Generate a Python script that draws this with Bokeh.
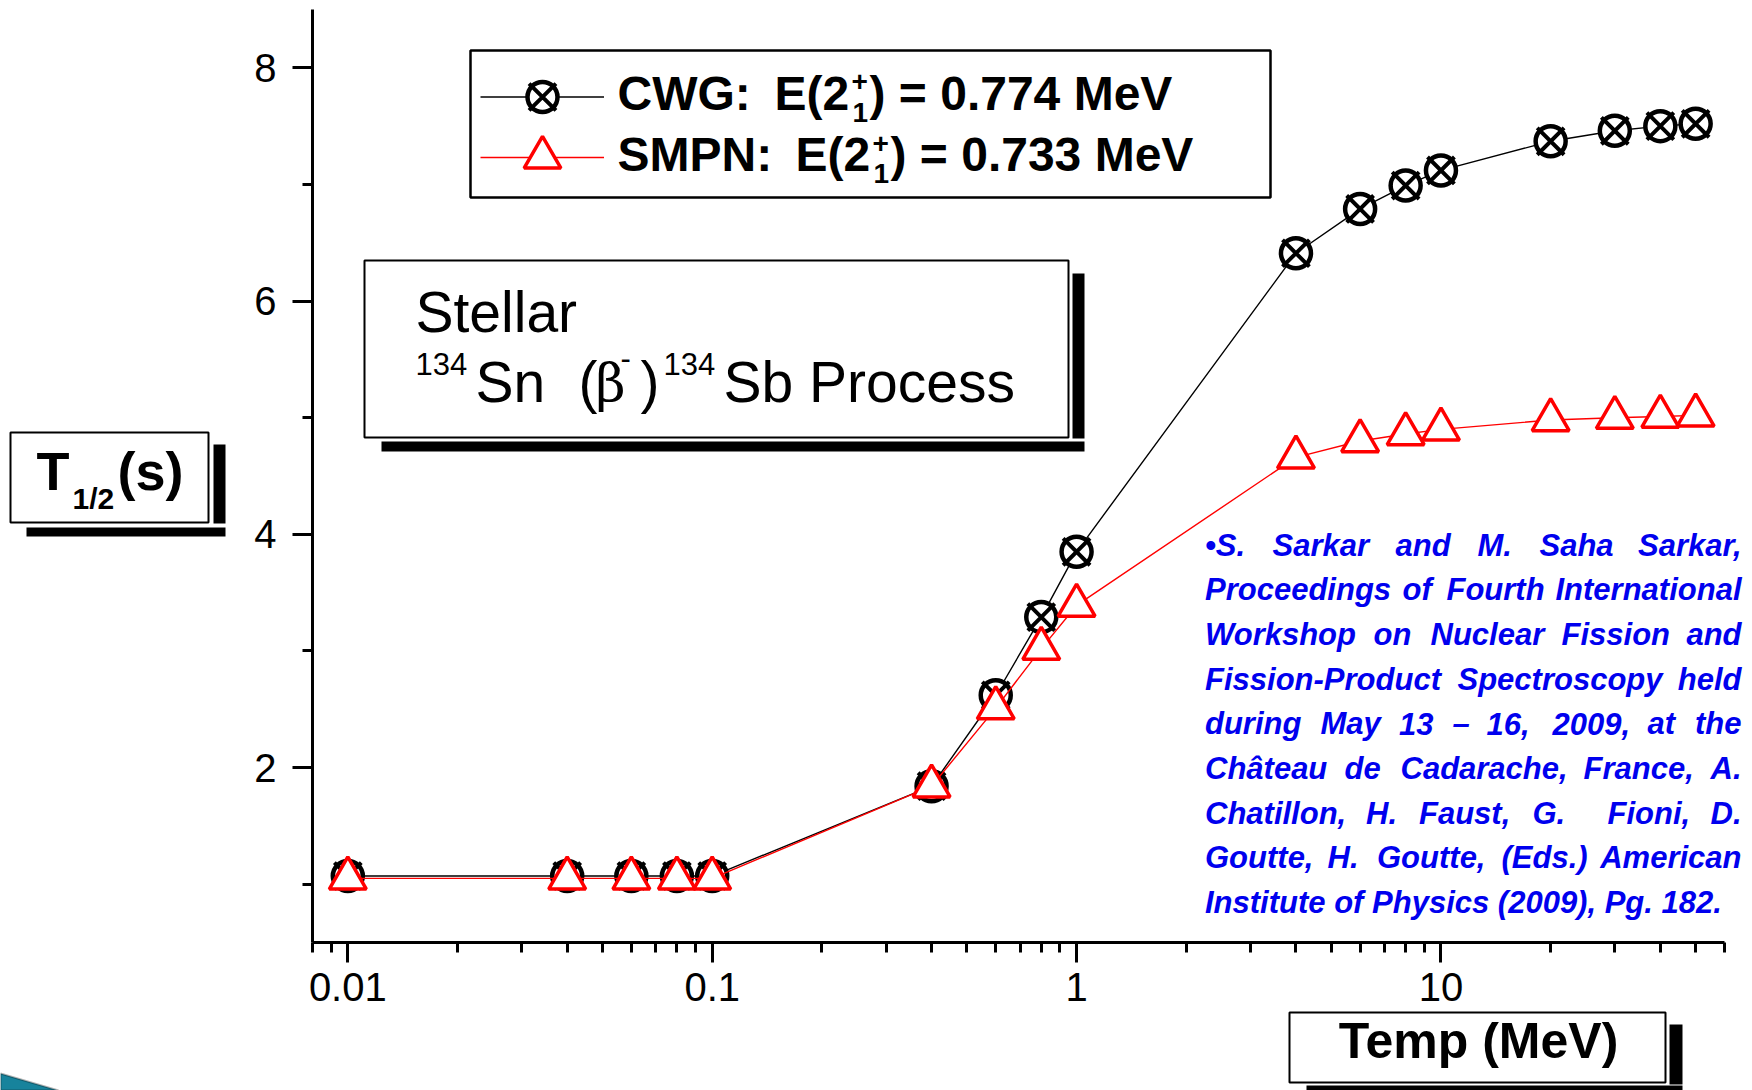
import math
from bokeh.plotting import figure
from bokeh.models import (Range1d, FixedTicker, SingleIntervalTicker, Label,
                          BoxAnnotation, PolyAnnotation, Legend, LegendItem)
from bokeh.embed import file_html
from bokeh.resources import INLINE

# ---------------- data ----------------
temp_mev = [0.01, 0.04, 0.06, 0.08, 0.1, 0.4, 0.6, 0.8, 1, 4, 6, 8, 10, 20, 30, 40, 50]
cwg_half_life = [1.07, 1.07, 1.07, 1.07, 1.07, 1.84, 2.62, 3.29, 3.85,
                 6.41, 6.79, 6.99, 7.12, 7.37, 7.46, 7.50, 7.52]
smpn_half_life = [1.05, 1.05, 1.05, 1.05, 1.05, 1.84, 2.51, 3.02, 3.39,
                  4.66, 4.80, 4.86, 4.90, 4.98, 5.00, 5.01, 5.02]

x_bounds = (0.008, 60)
y_bounds = (0.5, 8.5)
x_major_ticks = [0.01, 0.1, 1, 10]
x_tick_labels = ["0.01", "0.1", "1", "10"]
y_tick_interval = 2

legend_cwg = ["CWG:", "E(2", "+", "1", ") = 0.774 MeV"]
legend_smpn = ["SMPN:", "E(2", "+", "1", ") = 0.733 MeV"]
y_label = ["T", "1/2", "(s)"]
x_label = "Temp (MeV)"
box_line1 = "Stellar"
box_line2 = ["134", "Sn", "(", "\u03b2", "-", ")", "134", "Sb Process"]

citation_lines = [
    ["\u2022S.", "Sarkar", "and", "M.", "Saha", "Sarkar,"],
    ["Proceedings", "of", "Fourth", "International"],
    ["Workshop", "on", "Nuclear", "Fission", "and"],
    ["Fission-Product", "Spectroscopy", "held"],
    ["during", "May", "13", "\u2013", "16,", "2009,", "at", "the"],
    ["Ch\u00e2teau", "de", "Cadarache,", "France,", "A."],
    ["Chatillon,", "H.", "Faust,", "G.", "Fioni,", "D."],
    ["Goutte,", "H.", "Goutte,", "(Eds.)", "American"],
    ["Institute of Physics (2009), Pg. 182."],
]

# ---------------- layout (canvas pixels) ----------------
W, H = 1752, 1090
AX_L, AX_R, AX_T, AX_B = 312, 1724, 9, 942   # where the axes sit on the canvas

# frame covers the whole canvas; ranges extended so the axes land at AX_*
lx0, lx1 = math.log10(x_bounds[0]), math.log10(x_bounds[1])
px_dec = (AX_R - AX_L) / (lx1 - lx0)
x_start = 10 ** (lx0 - AX_L / px_dec)
x_end = 10 ** (lx1 + (W - AX_R) / px_dec)
px_unit = (AX_B - AX_T) / (y_bounds[1] - y_bounds[0])
y_start = y_bounds[0] - (H - AX_B) / px_unit
y_end = y_bounds[1] + AX_T / px_unit

p = figure(width=W, height=H, x_axis_type="log",
           x_range=Range1d(x_start, x_end), y_range=Range1d(y_start, y_end),
           output_backend="svg", toolbar_location=None,
           min_border=0, min_border_left=0, min_border_right=0,
           min_border_top=0, min_border_bottom=0)
p.title.visible = False
p.xgrid.visible = False
p.ygrid.visible = False
p.outline_line_color = None
p.background_fill_color = "white"
p.border_fill_color = "white"

minor_x = [m * 10.0 ** e for e in range(-3, 2) for m in range(2, 10)]
minor_x = [v for v in minor_x if x_bounds[0] <= v <= x_bounds[1]]
p.xaxis.ticker = FixedTicker(ticks=x_major_ticks, minor_ticks=minor_x)
p.xaxis.major_label_overrides = {t: s for t, s in zip(x_major_ticks, x_tick_labels)}
p.yaxis.ticker = SingleIntervalTicker(interval=y_tick_interval, num_minor_ticks=2)
p.xaxis.fixed_location = y_bounds[0]
p.xaxis.bounds = x_bounds
p.yaxis.fixed_location = x_bounds[0]
p.yaxis.bounds = y_bounds

for ax in (p.xaxis[0], p.yaxis[0]):
    ax.axis_line_width = 3
    ax.axis_line_color = "black"
    ax.major_tick_line_width = 3
    ax.minor_tick_line_width = 3
    ax.major_tick_line_color = "black"
    ax.minor_tick_line_color = "black"
    ax.major_tick_out = 20
    ax.major_tick_in = 0
    ax.minor_tick_out = 10
    ax.minor_tick_in = 0
    ax.major_label_text_font = "Liberation Sans"
    ax.major_label_text_font_size = "40px"
    ax.major_label_text_color = "black"
p.xaxis.major_label_standoff = 10
p.yaxis.major_label_standoff = 16

# ---------------- data renderers ----------------
cwg_line = p.line(temp_mev, cwg_half_life, line_color="black", line_width=1.4)
cwg_circ = p.scatter(temp_mev, cwg_half_life, marker="circle", size=30,
                     line_color="black", line_width=4.5, fill_color="white")
cwg_x = p.scatter(temp_mev, cwg_half_life, marker="x", size=38,
                  line_color="black", line_width=4)
smpn_line = p.line(temp_mev, smpn_half_life, line_color="red", line_width=1.4)
smpn_tri = p.scatter(temp_mev, smpn_half_life, marker="triangle", size=37,
                     line_color="red", line_width=3.5, fill_color="white")

# ---------------- helpers (screen units, frame == canvas) ----------------
K_BASE = 0.385   # empirical shift of the rendered alphabetic baseline


def box(x0, y0, x1, y1, fill="white", line=None, lw=0):
    p.add_layout(BoxAnnotation(left=x0, right=x1, top=H - y0, bottom=H - y1,
                               left_units="screen", right_units="screen",
                               top_units="screen", bottom_units="screen",
                               fill_color=fill, fill_alpha=1.0,
                               line_color=line, line_width=lw,
                               line_alpha=1.0 if line else 0))


def lab(text, X, Yb, size, style="normal", font="Liberation Sans", color="black", align="left"):
    p.add_layout(Label(x=X, y=H - (Yb - K_BASE * size), x_units="screen", y_units="screen",
                       text=text, text_font=font, text_font_size=f"{size}px",
                       text_font_style=style, text_color=color, text_align=align,
                       text_baseline="alphabetic"))


# ---------------- legend ----------------
box(470, 50, 1270, 197, "white", "black", 2.5)


def mk_legend(renderers, gh, cy):
    p.add_layout(Legend(items=[LegendItem(label=" ", renderers=renderers)],
                        location=(480, H - (cy + gh / 2)),
                        glyph_width=124, glyph_height=gh, padding=0, margin=0, spacing=0,
                        border_line_alpha=0, background_fill_alpha=0,
                        label_text_font_size="1px", label_standoff=0,
                        label_width=0, label_height=1))


mk_legend([cwg_line, cwg_circ], 75, 96)
mk_legend([cwg_x], 95, 96)
mk_legend([smpn_line, smpn_tri], 92, 157)

lab(legend_cwg[0], 617, 111, 48, "bold")
lab(legend_cwg[1], 774, 111, 48, "bold")
lab(legend_cwg[2], 851, 92, 28, "bold")
lab(legend_cwg[3], 852, 123, 28, "bold")
lab(legend_cwg[4], 869, 111, 48, "bold")
lab(legend_smpn[0], 617, 172, 48, "bold")
lab(legend_smpn[1], 795, 172, 48, "bold")
lab(legend_smpn[2], 872, 154, 28, "bold")
lab(legend_smpn[3], 873, 184, 28, "bold")
lab(legend_smpn[4], 890, 172, 48, "bold")

# ---------------- stellar box ----------------
box(1072, 273, 1084, 438, "black")
box(381, 441, 1084, 451, "black")
box(364, 260, 1068, 437, "white", "black", 2)
lab(box_line1, 415, 333, 57)
lab(box_line2[0], 415, 375, 31)
lab(box_line2[1], 475, 403, 57)
lab(box_line2[2], 578, 403, 57)
lab(box_line2[3], 595, 403, 52, font="DejaVu Serif")
lab(box_line2[4], 620, 369, 31)
lab(box_line2[5], 640, 403, 57)
lab(box_line2[6], 663, 375, 31)
lab(box_line2[7], 723, 403, 57)

# ---------------- y label box ----------------
box(213, 444, 225, 523, "black")
box(26, 527, 225, 536, "black")
box(10, 432, 208, 522, "white", "black", 2)
lab(y_label[0], 36, 491, 54, "bold")
lab(y_label[1], 72, 510, 30, "bold")
lab(y_label[2], 117, 491, 54, "bold")

# ---------------- x label box ----------------
box(1669, 1024, 1682, 1084, "black")
box(1306, 1085, 1682, 1095, "black")
box(1289, 1012, 1665, 1082, "white", "black", 2)
lab(x_label, 1478, 1060, 50, "bold", align="center")

# ---------------- citation ----------------
cite_x = [
    [1204.5, 1272, 1395, 1477, 1539],
    [1204.5, 1402, 1446],
    [1204.5, 1373, 1430, 1561],
    [1204.5, 1457],
    [1204.5, 1320, 1398.5, 1452, 1486, 1552, 1647],
    [1204.5, 1344, 1400, 1583],
    [1204.5, 1365.5, 1418.5, 1532, 1607],
    [1204.5, 1327, 1376.5, 1501],
]
cite_font = "Liberation Sans"
cite_color = "#0000ee"
cite_size = 31
for i, words in enumerate(citation_lines):
    yb = 556.5 + 44.7 * i
    if i < len(cite_x):
        for w, xx in zip(words[:-1], cite_x[i]):
            lab(w, xx, yb, cite_size, "bold italic", cite_font, cite_color)
        lab(words[-1], 1741, yb, cite_size, "bold italic", cite_font, cite_color, align="right")
    else:
        lab(words[0], 1204.5, yb, cite_size, "bold italic", cite_font, cite_color)

# ---------------- corner decoration ----------------
p.add_layout(PolyAnnotation(xs=[0, 0, 58], ys=[H - 1073, H - 1090, H - 1090],
                            xs_units="screen", ys_units="screen",
                            fill_color="#17839c", fill_alpha=1.0,
                            line_color="black", line_width=2))

open("out.html", "w").write(file_html(p, INLINE))
